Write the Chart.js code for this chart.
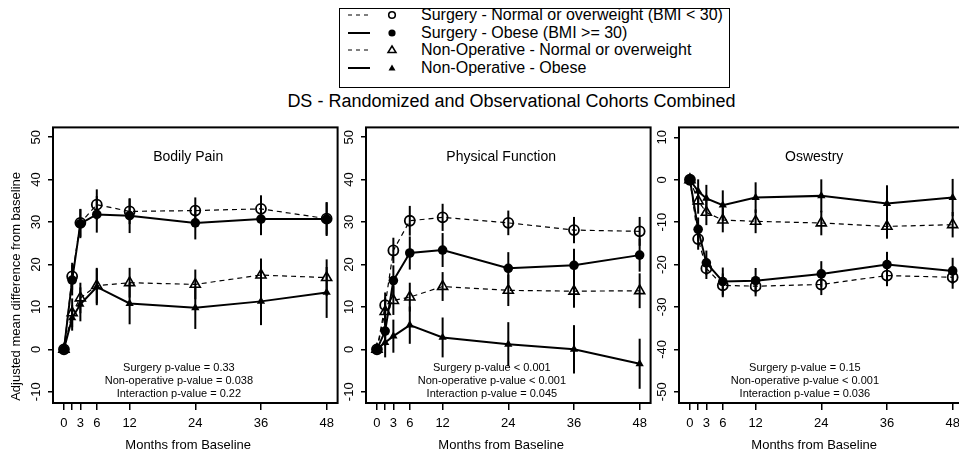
<!DOCTYPE html>
<html>
<head>
<meta charset="utf-8">
<script src="https://cdn.jsdelivr.net/npm/chart.js@4"></script>
<style>
html, body { margin: 0; padding: 0; background: #fff; overflow: hidden; }
#page { position: relative; width: 959px; height: 458px; overflow: hidden;
        font-family: "Liberation Sans", Arial, Helvetica, sans-serif; color: #000; }
.panel { position: absolute; top: 120px; }
#legendBox { position: absolute; left: 339px; top: 8px; width: 391px; height: 80px;
             border: 1.5px solid #000; box-sizing: border-box; }
.legRow { position: absolute; left: 345px; height: 18px; }
.legRow svg { position: absolute; left: 0; top: 0; }
.legRow span { position: absolute; left: 76px; top: 0; font-size: 16px; line-height: 18px; white-space: nowrap; }
#mainTitle { position: absolute; left: 0; width: 1023px; top: 90px; text-align: center;
             font-size: 18px; line-height: 22px; white-space: nowrap; }
</style>
</head>
<body>
<div id="page">
  <div id="legendBox"></div>
  <div id="legend"></div>
  <div id="mainTitle">DS - Randomized and Observational Cohorts Combined</div>
  <canvas id="bp" class="panel" width="345" height="338" style="left:0px"></canvas>
  <canvas id="pf" class="panel" width="345" height="338" style="left:313px"></canvas>
  <canvas id="od" class="panel" width="345" height="338" style="left:626px"></canvas>
</div>
<script>
// Data
const months = [0, 1.5, 3, 6, 12, 24, 36, 48];
const xTicks = [0, 1.5, 3, 6, 12, 24, 36, 48];
const seriesNames = [
    'Surgery - Normal or overweight (BMI < 30)',
    'Surgery - Obese (BMI >= 30)',
    'Non-Operative - Normal or overweight',
    'Non-Operative - Obese'
];
const xTitle = 'Months from Baseline';
const yTitle = 'Adjusted mean difference from baseline';

// Bodily Pain
const bpTicks = [-10, 0, 10, 20, 30, 40, 50];
const bpSurgNormal = [0, 17.2, 29.8, 34.1, 32.5, 32.7, 33.1, 30.8];
const bpSurgObese = [0, 16.3, 29.6, 31.8, 31.5, 29.8, 30.7, 30.7];
const bpNonNormal = [0, 8.6, 12.1, 15.0, 15.7, 15.3, 17.5, 16.9];
const bpNonObese = [0, 7.4, 10.6, 14.7, 10.8, 9.8, 11.3, 13.4];
const bpSurgNormalErr = [0, 3.2, 3.3, 3.6, 3.0, 3.1, 3.2, 3.8];
const bpSurgObeseErr = [0, 3.6, 3.4, 4.3, 4.1, 3.9, 3.8, 4.0];
const bpNonNormalErr = [0, 3.4, 3.6, 4.2, 3.5, 3.5, 3.9, 4.3];
const bpNonObeseErr = [0, 3.0, 4.0, 4.3, 4.9, 5.0, 5.6, 6.0];
const bpPvals = ['Surgery p-value = 0.33', 'Non-operative p-value = 0.038', 'Interaction p-value = 0.22'];

// Physical Function
const pfTicks = [-10, 0, 10, 20, 30, 40, 50];
const pfSurgNormal = [0, 10.4, 23.3, 30.3, 31.1, 29.8, 28.1, 27.8];
const pfSurgObese = [0, 4.3, 16.2, 22.7, 23.4, 19.1, 19.8, 22.2];
const pfNonNormal = [0, 8.9, 11.5, 12.3, 14.8, 13.9, 13.7, 13.8];
const pfNonObese = [0, 1.6, 3.1, 5.7, 2.8, 1.2, 0.0, -3.4];
const pfSurgNormalErr = [0, 3.0, 3.0, 3.5, 3.2, 2.9, 3.1, 3.4];
const pfSurgObeseErr = [0, 3.5, 3.6, 3.9, 4.0, 3.8, 3.9, 3.9];
const pfNonNormalErr = [0, 3.3, 3.4, 3.4, 3.4, 3.7, 3.9, 4.1];
const pfNonObeseErr = [0, 3.5, 3.9, 4.4, 4.7, 5.2, 5.7, 5.9];
const pfPvals = ['Surgery p-value < 0.001', 'Non-operative p-value < 0.001', 'Interaction p-value = 0.045'];

// Oswestry
const odTicks = [-50, -40, -30, -20, -10, 0, 10];
const odSurgNormal = [0, -14.0, -20.9, -24.9, -25.1, -24.7, -22.6, -23.0];
const odSurgObese = [0, -11.7, -19.6, -24.0, -23.8, -22.2, -20.0, -21.5];
const odNonNormal = [0, -5.0, -7.7, -9.5, -9.8, -10.2, -11.0, -10.6];
const odNonObese = [0, -2.7, -4.4, -6.0, -4.2, -3.8, -5.6, -4.2];
const odSurgNormalErr = [0, 2.5, 2.5, 2.8, 2.4, 2.5, 2.5, 2.7];
const odSurgObeseErr = [0, 2.8, 2.9, 3.3, 3.0, 3.0, 3.0, 3.1];
const odNonNormalErr = [0, 3.0, 3.0, 2.9, 2.8, 2.9, 2.9, 3.0];
const odNonObeseErr = [0, 2.8, 3.2, 3.5, 3.6, 3.9, 4.3, 4.4];
const odPvals = ['Surgery p-value = 0.15', 'Non-operative p-value < 0.001', 'Interaction p-value = 0.036'];

const FONT = '"Liberation Sans", Arial, Helvetica, sans-serif';
Chart.defaults.font.family = FONT;
Chart.defaults.color = '#000';

// open circle, filled circle, open triangle, filled triangle
const styles = [
    { dash: [5, 4], width: 1.2, point: 'circle', fill: 'rgba(0,0,0,0)', r: 5, pb: 1.8 },
    { dash: [], width: 2, point: 'circle', fill: '#000', r: 4.8, pb: 0 },
    { dash: [5, 4], width: 1.2, point: 'triangle', fill: 'rgba(0,0,0,0)', r: 5.8, pb: 1.6 },
    { dash: [], width: 2, point: 'triangle', fill: '#000', r: 4.8, pb: 0 }
];

// error bars drawn from the dataset values through the y scale
const errorBars = {
    id: 'errorBars',
    afterDatasetsDraw(chart) {
        const { ctx, scales: { x, y } } = chart;
        ctx.save();
        ctx.strokeStyle = '#000';
        ctx.lineWidth = 2;
        chart.data.datasets.forEach(ds => {
            ds.data.forEach((p, i) => {
                const e = ds.errors[i];
                if (!e) return;
                const px = x.getPixelForValue(p.x);
                ctx.beginPath();
                ctx.moveTo(px, y.getPixelForValue(p.y - e));
                ctx.lineTo(px, y.getPixelForValue(p.y + e));
                ctx.stroke();
            });
        });
        ctx.restore();
    }
};

// box around the plot region
const boxPlugin = {
    id: 'boxPlugin',
    afterDraw(chart) {
        const { ctx, chartArea: a } = chart;
        ctx.save();
        ctx.strokeStyle = '#000';
        ctx.lineWidth = 2;
        ctx.strokeRect(a.left, a.top, a.right - a.left, a.bottom - a.top);
        ctx.restore();
    }
};

function textPlugin(p) {
    return {
        id: 'panelText',
        afterDraw(chart) {
            const { ctx, chartArea: a, scales: { x } } = chart;
            ctx.save();
            ctx.fillStyle = '#000';
            ctx.textAlign = 'center';
            ctx.textBaseline = 'middle';
            const cx = x.getPixelForValue(22.7);
            ctx.font = '14px ' + FONT;
            ctx.fillText(p.title, cx, a.top + 30);
            ctx.font = '11px ' + FONT;
            const px = x.getPixelForValue(21);
            p.pvals.forEach((t, i) => ctx.fillText(t, px, a.bottom - 35 + i * 13.2));
            ctx.font = '13px ' + FONT;
            ctx.fillText(xTitle, cx, a.bottom + 42);
            if (p.showY) {
                ctx.translate(16, a.top + 159);
                ctx.rotate(-Math.PI / 2);
                ctx.fillText(yTitle, 0, 0);
            }
            ctx.restore();
        }
    };
}

function makePanel(id, p) {
    const datasets = p.values.map((vals, k) => ({
        label: seriesNames[k],
        data: months.map((m, i) => ({ x: m, y: vals[i] })),
        errors: p.errors[k],
        borderColor: '#000',
        borderWidth: styles[k].width,
        borderDash: styles[k].dash,
        pointStyle: styles[k].point,
        pointRadius: styles[k].r,
        pointBorderWidth: styles[k].pb,
        pointBorderColor: '#000',
        pointBackgroundColor: styles[k].fill,
        fill: false,
        tension: 0
    }));
    return new Chart(document.getElementById(id), {
        type: 'line',
        data: { datasets },
        options: {
            responsive: false,
            animation: false,
            devicePixelRatio: 1,
            layout: { padding: { top: 6, right: 6, left: 0, bottom: 0 } },
            plugins: { legend: { display: false }, tooltip: { enabled: false } },
            scales: {
                x: {
                    type: 'linear', min: -2, max: 50,
                    afterBuildTicks: s => { s.ticks = xTicks.map(v => ({ value: v })); },
                    afterFit: s => { s.height = 55; s.paddingLeft = 0; s.paddingRight = 0; },
                    grid: { drawOnChartArea: false, tickLength: 7, color: '#000', lineWidth: 1.5 },
                    border: { display: false },
                    ticks: { autoSkip: false, maxRotation: 0, padding: 6, font: { size: 13 },
                             callback: v => v === 1.5 ? '' : String(v) }
                },
                y: {
                    type: 'linear', min: p.yMin, max: p.yMax,
                    afterBuildTicks: s => { s.ticks = p.yTicks.map(v => ({ value: v })); },
                    afterFit: s => { s.width = 53; s.paddingTop = 0; s.paddingBottom = 0; },
                    grid: { drawOnChartArea: false, tickLength: 5, color: '#000', lineWidth: 1.5 },
                    border: { display: false },
                    ticks: { minRotation: 90, maxRotation: 90, crossAlign: 'center', padding: 2,
                             font: { size: 13 }, callback: v => String(v) }
                }
            }
        },
        plugins: [errorBars, boxPlugin, textPlugin(p)]
    });
}

makePanel('bp', {
    title: 'Bodily Pain', showY: true, yMin: -12.65, yMax: 52.3, yTicks: bpTicks,
    values: [bpSurgNormal, bpSurgObese, bpNonNormal, bpNonObese],
    errors: [bpSurgNormalErr, bpSurgObeseErr, bpNonNormalErr, bpNonObeseErr],
    pvals: bpPvals
});
makePanel('pf', {
    title: 'Physical Function', showY: false, yMin: -12.65, yMax: 52.3, yTicks: pfTicks,
    values: [pfSurgNormal, pfSurgObese, pfNonNormal, pfNonObese],
    errors: [pfSurgNormalErr, pfSurgObeseErr, pfNonNormalErr, pfNonObeseErr],
    pvals: pfPvals
});
makePanel('od', {
    title: 'Oswestry', showY: false, yMin: -52.65, yMax: 12.35, yTicks: odTicks,
    values: [odSurgNormal, odSurgObese, odNonNormal, odNonObese],
    errors: [odSurgNormalErr, odSurgObeseErr, odNonNormalErr, odNonObeseErr],
    pvals: odPvals
});

// Legend (line sample + marker + text)
const legendTops = [6, 24, 41, 59];
const legendMarks = [
    '<circle cx="47" cy="9" r="3.3" fill="none" stroke="#000" stroke-width="1.6"/>',
    '<circle cx="47" cy="9" r="3.6" fill="#000"/>',
    '<path d="M47 5 L51 11.5 L43 11.5 Z" fill="none" stroke="#000" stroke-width="1.5"/>',
    '<path d="M47 5.5 L50.5 11.5 L43.5 11.5 Z" fill="#000"/>'
];
const legend = document.getElementById('legend');
seriesNames.forEach((name, k) => {
    const row = document.createElement('div');
    row.className = 'legRow';
    row.style.top = legendTops[k] + 'px';
    const dash = styles[k].dash.length ? ' stroke-dasharray="4 4"' : '';
    const lw = styles[k].dash.length ? 1.2 : 2;
    row.innerHTML = '<svg width="60" height="18"><line x1="3" y1="9" x2="25" y2="9" stroke="#000" stroke-width="' + lw + '"' + dash + '/>' +
        legendMarks[k] + '</svg><span></span>';
    row.querySelector('span').textContent = name;
    legend.appendChild(row);
});
</script>
</body>
</html>
